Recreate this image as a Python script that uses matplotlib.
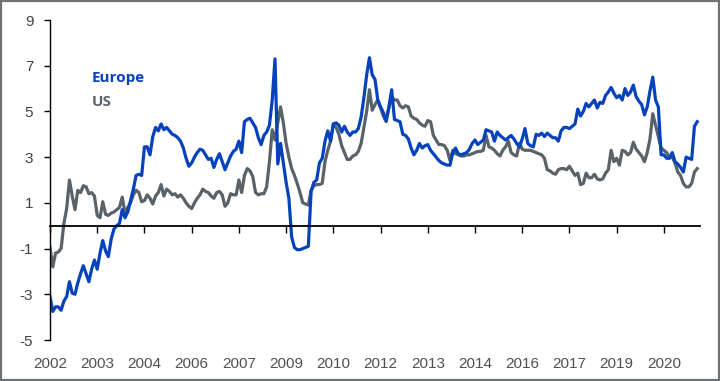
import numpy as np
import pandas as pd
import matplotlib
matplotlib.use('Agg')
import matplotlib.pyplot as plt
from matplotlib.patches import Rectangle

plt.rcParams['font.family'] = ['Liberation Sans', 'DejaVu Sans']
plt.rcParams['axes.unicode_minus'] = False

# monthly readings, Feb 2002 onwards
europe = [
    -3.1, -3.75, -3.55, -3.55, -3.7, -3.3, -3.1, -2.45, -2.95, -3.0, -2.5, -2.1,
    -1.75, -2.1, -2.45, -1.9, -1.5, -1.9, -1.2, -0.65, -1.1, -1.35, -0.6, -0.15,
    0.0, 0.1, 0.7, 0.35, 0.6, 1.1, 1.6, 2.2, 2.25, 2.2, 3.45, 3.45,
    3.1, 3.9, 4.3, 4.15, 4.45, 4.2, 4.3, 4.15, 4.0, 3.95, 3.85, 3.7,
    3.4, 2.95, 2.6, 2.75, 3.0, 3.2, 3.35, 3.3, 3.1, 2.9, 2.95, 2.55,
    2.9, 3.15, 2.8, 2.45, 2.75, 3.05, 3.25, 3.35, 3.7, 3.2, 4.55, 4.65,
    4.7, 4.5, 4.3, 3.85, 3.55, 3.95, 4.1, 4.4, 5.5, 7.3, 2.7, 3.6,
    2.75, 1.9, 1.2, -0.5, -0.95, -1.05, -1.05, -1.0, -0.95, -0.9, 1.5, 1.9,
    2.0, 2.75, 2.95, 3.7, 4.15, 3.7, 4.45, 4.5, 4.4, 4.1, 4.35, 4.1,
    3.95, 4.1, 4.1, 4.25, 4.75, 5.6, 6.6, 7.35, 6.6, 6.4, 5.5, 5.2,
    4.95, 4.6, 5.2, 5.95, 4.65, 4.6, 4.55, 4.0, 3.95, 3.8, 3.4, 3.1,
    3.3, 3.6, 3.4, 3.5, 3.55, 3.3, 3.15, 3.0, 2.85, 2.75, 2.7, 2.65,
    2.65, 3.2, 3.4, 3.15, 3.1, 3.15, 3.2, 3.35, 3.6, 3.75, 3.55, 3.65,
    3.75, 4.2, 4.15, 4.1, 3.7, 4.1, 3.95, 3.85, 3.75, 3.85, 3.95, 3.8,
    3.6, 3.45, 3.8, 4.25, 3.6, 3.5, 3.45, 4.0, 3.95, 4.05, 3.9, 4.05,
    3.95, 3.85, 3.85, 3.7, 4.15, 4.3, 4.3, 4.25, 4.35, 4.45, 5.1, 4.8,
    5.0, 5.35, 5.2, 5.35, 5.5, 5.15, 5.4, 5.35, 5.7, 5.85, 6.05, 5.8,
    5.6, 5.7, 5.5, 6.0, 5.7, 5.85, 6.15, 5.65, 5.45, 5.3, 4.85, 5.2,
    5.9, 6.5, 5.5, 5.2, 3.1, 3.1, 2.95, 2.95, 3.2, 2.8, 2.7, 2.55,
    2.35, 3.0, 2.95, 2.9, 4.35, 4.55,
]

us = [
    -0.95, -1.8, -1.2, -1.15, -1.0, 0.1, 0.75, 2.0, 1.3, 0.7, 1.55, 1.45,
    1.75, 1.7, 1.4, 1.45, 1.3, 0.45, 0.35, 1.05, 0.5, 0.45, 0.55, 0.6,
    0.7, 0.8, 1.25, 0.55, 0.8, 1.0, 1.35, 1.55, 1.45, 1.05, 1.1, 1.35,
    1.2, 0.95, 1.3, 1.45, 1.8, 1.3, 1.6, 1.5, 1.35, 1.4, 1.25, 1.35,
    1.2, 1.0, 0.85, 0.75, 1.0, 1.2, 1.35, 1.6, 1.5, 1.45, 1.3, 1.2,
    1.45, 1.5, 1.35, 0.85, 1.0, 1.4, 1.35, 1.35, 2.0, 1.45, 2.2, 2.5,
    2.4, 2.15, 1.45, 1.35, 1.4, 1.4, 1.7, 2.8, 4.2, 3.75, 4.5, 5.2,
    4.5, 3.6, 3.0, 2.5, 2.2, 1.85, 1.45, 1.0, 0.95, 0.9, 1.55, 1.75,
    1.8, 1.8, 1.85, 2.8, 3.3, 3.7, 4.45, 4.3, 4.0, 3.5, 3.2, 2.9,
    2.9, 3.05, 3.1, 3.25, 3.6, 4.3, 5.0, 5.95, 5.05, 5.3, 5.5, 5.15,
    4.8, 4.55, 5.15, 5.65, 5.5, 5.5, 5.25, 5.15, 5.25, 5.2, 4.8, 4.7,
    4.65, 4.5, 4.4, 4.35, 4.6, 4.55, 3.95, 3.75, 3.55, 3.55, 3.5, 3.3,
    2.85, 3.3, 3.15, 3.1, 3.05, 3.05, 3.1, 3.1, 3.15, 3.2, 3.25, 3.25,
    3.3, 3.95, 3.45, 3.4, 3.3, 3.15, 3.05, 3.3, 3.45, 3.7, 3.2, 3.1,
    3.05, 3.6, 3.35, 3.3, 3.3, 3.3, 3.25, 3.2, 3.15, 3.1, 2.95, 2.45,
    2.4, 2.3, 2.25, 2.45, 2.5, 2.5, 2.45, 2.6, 2.4, 2.2, 2.3, 1.8,
    1.85, 2.3, 2.1, 2.1, 2.25, 2.05, 2.0, 2.05, 2.3, 2.45, 3.3, 2.8,
    2.95, 2.65, 3.3, 3.25, 3.1, 3.2, 3.65, 3.35, 3.2, 3.05, 2.8, 3.2,
    3.8, 4.9, 4.4, 3.9, 3.4, 3.3, 3.2, 3.0, 3.0, 2.75, 2.35, 2.2,
    1.85, 1.7, 1.7, 1.85, 2.35, 2.5,
]

dates = pd.date_range('2002-02-01', periods=len(europe), freq='MS')
yticks = [-5, -3, -1, 1, 3, 5, 7, 9]

blue = '#0542BC'
grey = '#5A6269'

fig = plt.figure(figsize=(7.2, 3.81), dpi=100)
ax = fig.add_axes([50 / 720, 1 - 340 / 381, 650 / 720, 320 / 381])

x = np.arange(len(europe))
ax.plot(x, us, color=grey, lw=2.3, solid_joinstyle='round')
ax.plot(x, europe, color=blue, lw=2.3, solid_joinstyle='round')

ax.set_xlim(0, len(europe))
ax.set_ylim(-5, 9)
ax.set_yticks(yticks)
ax.set_yticklabels([str(v) for v in yticks])

for s in ['top', 'right']:
    ax.spines[s].set_visible(False)
ax.spines['left'].set_linewidth(1.0)
# x axis line sits at zero, year labels stay at the bottom
ax.spines['bottom'].set_position(('data', 0))
ax.spines['bottom'].set_linewidth(1.3)

step = 17
xt = list(range(0, len(europe), step))
ax.set_xticks(xt)
ax.tick_params(axis='x', direction='out', length=5, width=1, labelbottom=False)
ax.tick_params(axis='y', direction='out', length=4, width=1, labelsize=11,
               colors='black', labelcolor='#404040', pad=8)

sec = ax.secondary_xaxis('bottom')
sec.set_xticks(xt)
sec.set_xticklabels([str(dates[i].year) for i in xt])
sec.spines['bottom'].set_visible(False)
sec.tick_params(length=0, labelsize=11, labelcolor='#505050', pad=12)

fig.text(92 / 720, 1 - 78 / 381, 'Europe', color=blue, fontsize=11,
         fontweight='bold', va='center', family=['Open Sans', 'DejaVu Sans'])
fig.text(92 / 720, 1 - 102 / 381, 'US', color=grey, fontsize=11,
         fontweight='bold', va='center', family=['Open Sans', 'DejaVu Sans'])

# frame round the whole picture
fig.add_artist(Rectangle((0.002, 0.003), 0.996, 0.994, transform=fig.transFigure,
                         fill=False, edgecolor='#6E7276', lw=1.6))

fig.savefig('out.png', dpi=100)
